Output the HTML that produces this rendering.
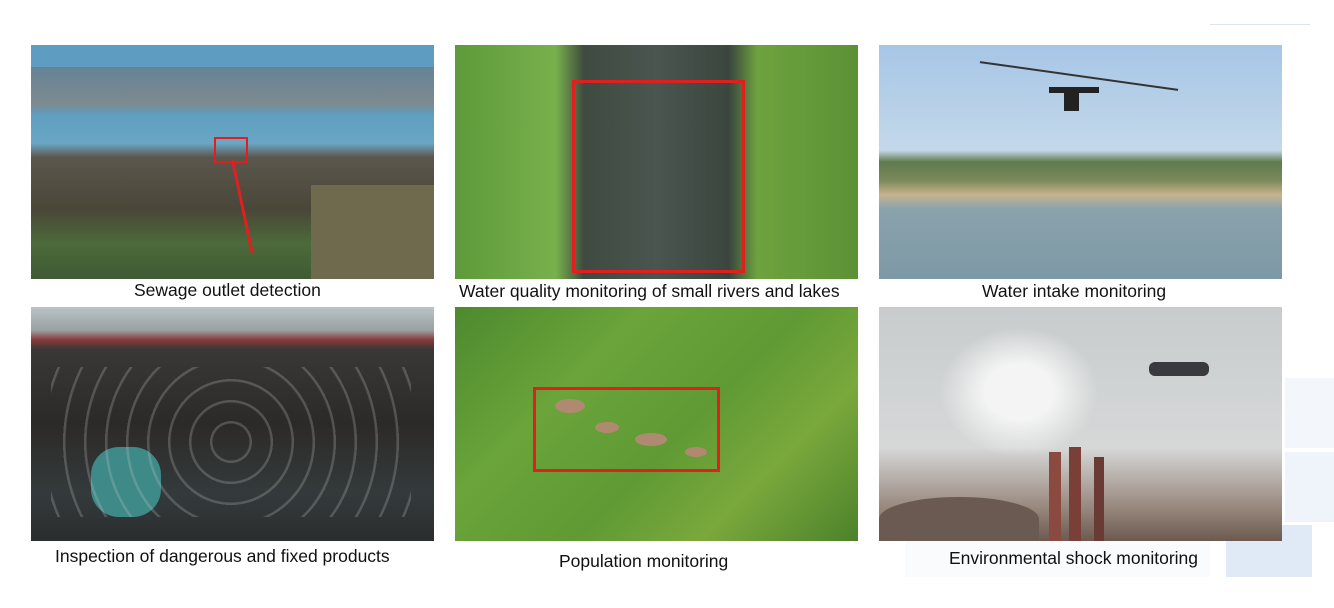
<!DOCTYPE html>
<html><head><meta charset="utf-8"><style>
body{margin:0;width:1334px;height:608px;background:#fff;position:relative;overflow:hidden;font-family:"Liberation Sans",Arial,sans-serif}
.img{position:absolute;width:403px;height:234px;overflow:hidden}
.lbl{position:absolute;font-size:17.5px;color:#111;white-space:nowrap}
.abs{position:absolute}
</style></head><body>
<div class="abs" style="left:1210px;top:24px;width:100px;height:1px;background:#dde6f0"></div>
<div class="abs" style="left:1285px;top:378px;width:49px;height:70px;background:#f3f7fc"></div>
<div class="abs" style="left:1285px;top:452px;width:49px;height:70px;background:#eef4fa"></div>
<div class="abs" style="left:1226px;top:525px;width:86px;height:52px;background:#dfeaf6"></div>

<!-- 1 sewage -->
<div class="img" style="left:31px;top:45px;background:linear-gradient(180deg,#5a7f9a 0%,#7c8a90 25%,#5f9fc0 30%,#6aa6c4 42%,#5b574d 48%,#4a4638 70%,#4c6a3a 85%,#3f5a35 100%)">
 <div class="abs" style="left:0;top:0;width:403px;height:22px;background:#5f9cc2"></div>
 <div class="abs" style="left:280px;top:140px;width:123px;height:94px;background:#6f6a4e"></div>
 <div class="abs" style="left:183px;top:92px;width:30px;height:22px;border:2px solid #e02020"></div>
 <div class="abs" style="left:200px;top:115px;width:3px;height:95px;background:#e02020;transform:rotate(-12deg);transform-origin:top"></div>
</div>
<div class="lbl" style="left:134px;top:280px">Sewage outlet detection</div>

<!-- 2 river -->
<div class="img" style="left:455px;top:45px;background:linear-gradient(90deg,#5e9a3a 0%,#78b04c 25%,#3f4a40 32%,#4a5550 50%,#3b463e 68%,#6ea23e 75%,#5c9236 100%)">
 <div class="abs" style="left:117px;top:35px;width:167px;height:187px;border:3px solid #e0201e"></div>
</div>
<div class="lbl" style="left:459px;top:281px">Water quality monitoring of small rivers and lakes</div>

<!-- 3 water intake -->
<div class="img" style="left:879px;top:45px;background:linear-gradient(180deg,#a6c6e6 0%,#c4d8ea 45%,#5f7a4e 50%,#7b8a5a 58%,#c7b48e 64%,#8aa2ac 70%,#7d98a6 100%)">
 <div class="abs" style="left:170px;top:42px;width:50px;height:6px;background:#222"></div>
 <div class="abs" style="left:100px;top:30px;width:200px;height:2px;background:#333;transform:rotate(8deg)"></div>
 <div class="abs" style="left:185px;top:48px;width:15px;height:18px;background:#222"></div>
</div>
<div class="lbl" style="left:982px;top:281px">Water intake monitoring</div>

<!-- 4 bikes -->
<div class="img" style="left:31px;top:307px;background:linear-gradient(180deg,#b9c4c8 0%,#9aa0a0 10%,#8a3a3a 14%,#3a3836 18%,#2c2a28 50%,#343a3c 80%,#2a2d2e 100%)">
 <div class="abs" style="left:60px;top:140px;width:70px;height:70px;background:#3e8a88;border-radius:40%"></div>
 <div class="abs" style="left:20px;top:60px;width:360px;height:150px;background:repeating-radial-gradient(circle at 50% 50%,transparent 0 18px,rgba(200,200,200,.25) 19px 21px)"></div>
</div>
<div class="lbl" style="left:55px;top:546px">Inspection of dangerous and fixed products</div>

<!-- 5 forest -->
<div class="img" style="left:455px;top:307px;background:linear-gradient(135deg,#4d8a2e 0%,#6aa43a 30%,#5f9a34 55%,#7aa83c 75%,#4c822a 100%)">
 <div class="abs" style="left:78px;top:80px;width:181px;height:79px;border:3px solid #e0201e"></div>
 <div class="abs" style="left:100px;top:92px;width:30px;height:14px;background:#b08a70;border-radius:50%"></div>
 <div class="abs" style="left:140px;top:115px;width:24px;height:11px;background:#b08a70;border-radius:50%"></div>
 <div class="abs" style="left:180px;top:126px;width:32px;height:13px;background:#b08a70;border-radius:50%"></div>
 <div class="abs" style="left:230px;top:140px;width:22px;height:10px;background:#b08a70;border-radius:50%"></div>
</div>
<div class="lbl" style="left:559px;top:551px">Population monitoring</div>

<!-- 6 smoke -->
<div class="img" style="left:879px;top:307px;background:linear-gradient(180deg,#c8cccd 0%,#d6d8d8 60%,#9a8a80 85%,#6c5a50 100%)">
 <div class="abs" style="left:60px;top:20px;width:160px;height:130px;background:radial-gradient(ellipse,#f4f4f4 30%,transparent 70%)"></div>
 <div class="abs" style="left:170px;top:145px;width:12px;height:89px;background:#8a4a40"></div>
 <div class="abs" style="left:190px;top:140px;width:12px;height:94px;background:#7a4038"></div>
 <div class="abs" style="left:215px;top:150px;width:10px;height:84px;background:#6a3a34"></div>
 <div class="abs" style="left:0;top:190px;width:160px;height:44px;background:#6b5a52;border-radius:60% 60% 0 0"></div>
 <div class="abs" style="left:270px;top:55px;width:60px;height:14px;background:#3a3a3e;border-radius:6px"></div>
</div>
<div class="abs" style="left:905px;top:541px;width:305px;height:36px;background:#fafbfc"></div>
<div class="lbl" style="left:949px;top:548px">Environmental shock monitoring</div>
</body></html>
